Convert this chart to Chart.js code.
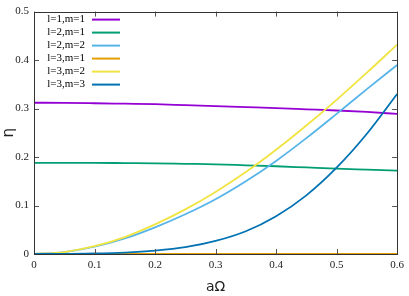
<!DOCTYPE html>
<html>
<head>
<meta charset="utf-8">
<script src="https://cdn.jsdelivr.net/npm/chart.js@4"></script>
<style>
  html,body{margin:0;padding:0;background:#fff;}
  #wrap{width:409px;height:296px;position:relative;}
</style>
</head>
<body>
<div id="wrap"><canvas id="c"></canvas></div>
<script>
// aΩ samples and eta per mode
const omega = [0, 0.05, 0.1, 0.15, 0.2, 0.25, 0.3, 0.35, 0.4, 0.45, 0.5, 0.55, 0.6];
const eta11 = [0.312, 0.3118, 0.311, 0.310, 0.309, 0.307, 0.305, 0.303, 0.301, 0.2985, 0.296, 0.293, 0.289];
const eta21 = [0.188, 0.188, 0.188, 0.1875, 0.187, 0.186, 0.185, 0.183, 0.181, 0.1785, 0.176, 0.174, 0.172];
const eta22 = [0, 0.004, 0.015, 0.032, 0.055, 0.082, 0.113, 0.150, 0.192, 0.239, 0.289, 0.340, 0.390];
const eta31 = [0, 0, 0, 0, 0, 0, 0, 0, 0, 0, 0, 0, 0];
const eta32 = [0, 0.004, 0.016, 0.035, 0.061, 0.092, 0.128, 0.169, 0.215, 0.265, 0.318, 0.374, 0.432];
const eta33 = [0, 0, 0.001, 0.003, 0.007, 0.014, 0.027, 0.047, 0.078, 0.121, 0.178, 0.248, 0.330];
const modeLabels = ['l=1,m=1','l=2,m=1','l=2,m=2','l=3,m=1','l=3,m=2','l=3,m=3'];
const modeColors = ['#9400d3','#009e73','#56b4e9','#e69f00','#f0e442','#0072b2'];
const xTicks = [0, 0.1, 0.2, 0.3, 0.4, 0.5, 0.6];
const yTicks = [0, 0.1, 0.2, 0.3, 0.4, 0.5];

const serif = '"Liberation Serif", "DejaVu Serif", serif';
const series = [eta11, eta21, eta22, eta31, eta32, eta33];
const pts = arr => arr.map((v,i)=>({x:omega[i], y:v}));

// gnuplot-ish box with inward ticks on all sides
const boxTicks = {
  id:'boxTicks',
  afterDatasetsDraw(chart){
    const {ctx, chartArea:a, scales:{x,y}} = chart;
    ctx.save();
    ctx.strokeStyle = '#555'; ctx.lineWidth = 1;
    ctx.beginPath();
    xTicks.forEach(v=>{
      const px = Math.round(x.getPixelForValue(v))+0.5;
      ctx.moveTo(px,a.bottom); ctx.lineTo(px,a.bottom-5);
      ctx.moveTo(px,a.top); ctx.lineTo(px,a.top+5);
    });
    yTicks.forEach(v=>{
      const py = Math.round(y.getPixelForValue(v))+0.5;
      ctx.moveTo(a.left,py); ctx.lineTo(a.left+5,py);
      ctx.moveTo(a.right,py); ctx.lineTo(a.right-5,py);
    });
    ctx.stroke();
    ctx.strokeStyle = '#333';
    ctx.strokeRect(Math.round(a.left)+0.5, Math.round(a.top)+0.5,
                   Math.round(a.right-a.left), Math.round(a.bottom-a.top));
    // key, text right aligned with sample line to its right
    ctx.font = '11px ' + serif;
    ctx.textAlign = 'right'; ctx.textBaseline = 'middle';
    chart.data.datasets.forEach((ds,i)=>{
      const ry = a.top + 8 + i*13;
      ctx.fillStyle = '#000';
      ctx.fillText(ds.label, a.left+51, ry);
      ctx.strokeStyle = ds.borderColor; ctx.lineWidth = 2;
      ctx.beginPath(); ctx.moveTo(a.left+58, ry); ctx.lineTo(a.left+86, ry); ctx.stroke();
    });
    ctx.restore();
  }
};

new Chart(document.getElementById('c'), {
  type:'line',
  data:{
    datasets: series.map((s,i)=>({
      label: modeLabels[i], data: pts(s),
      borderColor: modeColors[i], backgroundColor: modeColors[i],
      borderWidth: 1.8, pointRadius: 0, fill:false,
      cubicInterpolationMode:'monotone', order: 6-i
    }))
  },
  options:{
    responsive:true, maintainAspectRatio:false, animation:false,
    layout:{ padding:{ top:7, right:9, left:0, bottom:0 } },
    plugins:{ legend:{ display:false }, tooltip:{ enabled:false } },
    scales:{
      x:{
        type:'linear', min:0, max:0.6,
        afterBuildTicks: s => { s.ticks = xTicks.map(v=>({value:v})); },
        afterFit: s => { s.height = 42; },
        grid:{ display:false, drawTicks:false },
        border:{ display:false },
        ticks:{ color:'#222', padding:5, maxRotation:0, font:{ family:serif, size:11 } },
        title:{ display:true, text:'aΩ', color:'#222', padding:{top:0, bottom:0}, font:{ family:'"DejaVu Sans", sans-serif', size:14 } }
      },
      y:{
        type:'linear', min:0, max:0.5,
        afterBuildTicks: s => { s.ticks = yTicks.map(v=>({value:v})); },
        afterFit: s => { s.width = 34; },
        grid:{ display:false, drawTicks:false },
        border:{ display:false },
        ticks:{ color:'#222', padding:5, font:{ family:serif, size:11 } },
        title:{ display:true, text:'η', color:'#222', padding:{top:0, bottom:0}, font:{ family:'"DejaVu Sans", sans-serif', size:15 } }
      }
    }
  },
  plugins:[boxTicks]
});
</script>
</body>
</html>
